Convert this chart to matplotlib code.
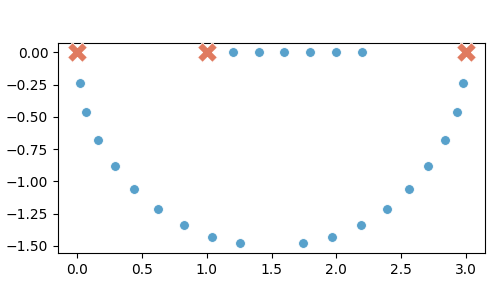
import matplotlib
matplotlib.use("Agg")
import matplotlib.pyplot as plt

# blue points
pts_x = [0.02, 0.07, 0.16, 0.29, 0.44, 0.62, 0.82, 1.04, 1.26,
         1.74, 1.97, 2.19, 2.39, 2.56, 2.71, 2.84, 2.93, 2.98,
         1.2, 1.4, 1.6, 1.8, 2.0, 2.2]
pts_y = [-0.24, -0.46, -0.68, -0.88, -1.06, -1.21, -1.34, -1.43, -1.48,
         -1.48, -1.43, -1.34, -1.21, -1.06, -0.88, -0.68, -0.46, -0.24,
         0.0, 0.0, 0.0, 0.0, 0.0, 0.0]

# red X markers
cross_x = [0.0, 1.0, 3.0]
cross_y = [0.0, 0.0, 0.0]

fig, ax = plt.subplots(figsize=(5, 3), dpi=100)
fig.subplots_adjust(left=0.116, right=0.97, bottom=0.157, top=0.857)

ax.scatter(pts_x, pts_y, s=50, color="#58a1cb", edgecolor="white", linewidth=0.6, zorder=2)
ax.scatter(cross_x, cross_y, s=200, marker="X", color="#e07a5f", edgecolor="white",
           linewidth=0.6, zorder=3)

ax.set_xticks([0.0, 0.5, 1.0, 1.5, 2.0, 2.5, 3.0])
ax.set_yticks([0.0, -0.25, -0.5, -0.75, -1.0, -1.25, -1.5])

fig.savefig("out.png", dpi=100)
